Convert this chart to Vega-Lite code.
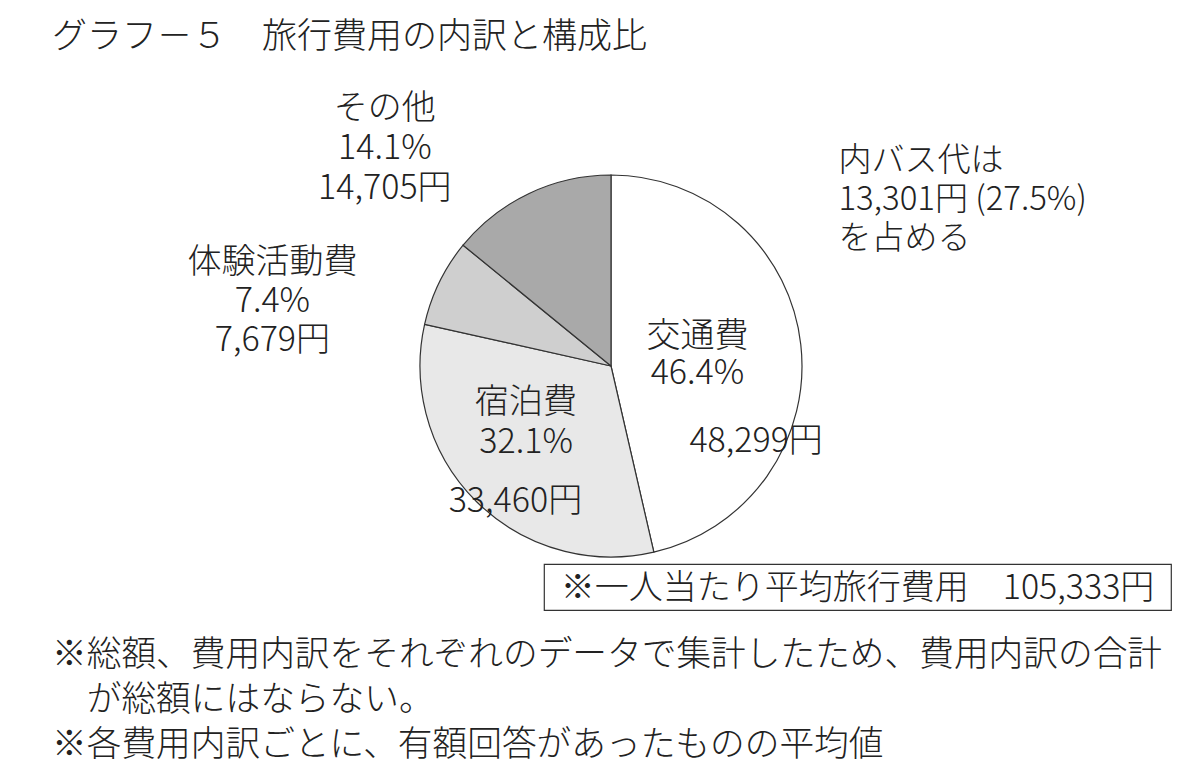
{
  "$schema": "https://vega.github.io/schema/vega-lite/v6.json",
  "background": "white",
  "padding": {"left": 30, "top": 20, "right": 0, "bottom": 10},
  "config": {
    "font": "Noto Sans CJK JP",
    "view": {"stroke": null},
    "text": {"font": "Noto Sans CJK JP", "color": "#222", "fontWeight": 300}
  },
  "title": {
    "text": [
      "※総額、費用内訳をそれぞれのデータで集計したため、費用内訳の合計",
      "\u200b　が総額にはならない。",
      "※各費用内訳ごとに、有額回答があったものの平均値"
    ],
    "orient": "bottom",
    "anchor": "start",
    "frame": "bounds",
    "offset": 28,
    "dx": 22,
    "font": "Noto Sans CJK JP",
    "fontSize": 34.7,
    "fontWeight": 300,
    "lineHeight": 45,
    "color": "#222"
  },
  "spacing": 0,
  "vconcat": [
    {
      "width": 1162,
      "height": 394,
      "title": {
        "text": "グラフ－５　旅行費用の内訳と構成比",
        "anchor": "start",
        "frame": "group",
        "offset": 37,
        "dx": 22,
        "font": "Noto Sans CJK JP",
        "fontSize": 35,
        "fontWeight": 300,
        "color": "#222"
      },
      "data": {
        "values": [
          {"item": "交通費", "pct": 46.4, "amount": 48299, "order": 1, "bus_item": "バス代", "bus_amount": 13301, "bus_pct": 27.5},
          {"item": "宿泊費", "pct": 32.1, "amount": 33460, "order": 2},
          {"item": "体験活動費", "pct": 7.4, "amount": 7679, "order": 3},
          {"item": "その他", "pct": 14.1, "amount": 14705, "order": 4}
        ]
      },
      "transform": [
        {"stack": "pct", "groupby": [], "sort": [{"field": "order"}], "as": ["t0", "t1"]},
        {"calculate": "(datum.t0 + datum.t1) / 2", "as": "mid"},
        {"calculate": "datum.item + '\\n' + format(datum.pct, '.1f') + '%'", "as": "share"},
        {"calculate": "format(datum.amount, ',') + '円'", "as": "yen"},
        {"calculate": "datum.share + '\\n' + datum.yen", "as": "full"}
      ],
      "layer": [
        {
          "mark": {"type": "arc", "radius": 191, "stroke": "#333", "strokeWidth": 1.2},
          "encoding": {
            "theta": {"field": "t0", "type": "quantitative", "stack": null, "scale": {"domain": [0, 100]}},
            "theta2": {"field": "t1"},
            "color": {
              "field": "item",
              "type": "nominal",
              "scale": {
                "domain": ["交通費", "宿泊費", "体験活動費", "その他"],
                "range": ["#ffffff", "#e8e8e8", "#cfcfcf", "#a9a9a9"]
              },
              "legend": null
            },
            "tooltip": [
              {"field": "item", "type": "nominal", "title": "費目"},
              {"field": "pct", "type": "quantitative", "title": "構成比(%)"},
              {"field": "amount", "type": "quantitative", "title": "金額(円)", "format": ","}
            ]
          }
        },
        {
          "transform": [{"filter": "datum.item === '交通費'"}],
          "mark": {"type": "text", "radius": 87, "dx": 0, "dy": -19, "fontSize": 34, "lineHeight": 37, "lineBreak": "\n"},
          "encoding": {
            "theta": {"field": "mid", "type": "quantitative", "scale": {"domain": [0, 100]}},
            "text": {"field": "share"}
          }
        },
        {
          "transform": [{"filter": "datum.item === '交通費'"}],
          "mark": {"type": "text", "radius": 136, "dx": 10, "dy": 91, "fontSize": 34},
          "encoding": {
            "theta": {"field": "mid", "type": "quantitative", "scale": {"domain": [0, 100]}},
            "text": {"field": "yen"}
          }
        },
        {
          "transform": [{"filter": "datum.item === '宿泊費'"}],
          "mark": {"type": "text", "radius": 102, "dx": -13, "dy": -35, "fontSize": 34, "lineHeight": 40, "lineBreak": "\n"},
          "encoding": {
            "theta": {"field": "mid", "type": "quantitative", "scale": {"domain": [0, 100]}},
            "text": {"field": "share"}
          }
        },
        {
          "transform": [{"filter": "datum.item === '宿泊費'"}],
          "mark": {"type": "text", "radius": 164, "dx": 20, "dy": 20, "fontSize": 34},
          "encoding": {
            "theta": {"field": "mid", "type": "quantitative", "scale": {"domain": [0, 100]}},
            "text": {"field": "yen"}
          }
        },
        {
          "transform": [{"filter": "datum.item === '体験活動費'"}],
          "mark": {"type": "text", "radius": 332, "dx": -40, "dy": 42, "fontSize": 34, "lineHeight": 39, "lineBreak": "\n"},
          "encoding": {
            "theta": {"field": "mid", "type": "quantitative", "scale": {"domain": [0, 100]}},
            "text": {"field": "full"}
          }
        },
        {
          "transform": [{"filter": "datum.item === 'その他'"}],
          "mark": {"type": "text", "radius": 292, "dx": -101, "dy": 7, "fontSize": 34, "lineHeight": 40, "lineBreak": "\n"},
          "encoding": {
            "theta": {"field": "mid", "type": "quantitative", "scale": {"domain": [0, 100]}},
            "text": {"field": "full"}
          }
        },
        {
          "transform": [
            {"filter": "datum.item === '交通費'"},
            {"calculate": "'内' + datum.bus_item + 'は\\n' + format(datum.bus_amount, ',') + '円 (' + format(datum.bus_pct, '.1f') + '%)\\nを占める'", "as": "bus_note"}
          ],
          "mark": {"type": "text", "radius": 244, "dx": -15, "dy": -177, "align": "left", "fontSize": 33, "lineHeight": 39, "lineBreak": "\n"},
          "encoding": {
            "theta": {"field": "mid", "type": "quantitative", "scale": {"domain": [0, 100]}},
            "text": {"field": "bus_note"}
          }
        }
      ]
    },
    {
      "spacing": 0,
      "hconcat": [
        {
          "width": 513,
          "height": 46,
          "data": {"values": []},
          "mark": "point"
        },
        {
          "width": 627,
          "height": 46,
          "view": {"stroke": "#333", "strokeWidth": 1.2},
          "data": {"values": [{"label": "※一人当たり平均旅行費用", "amount": 105333}]},
          "transform": [
            {"calculate": "datum.label + '　' + format(datum.amount, ',') + '円'", "as": "total_text"}
          ],
          "mark": {"type": "text", "fontSize": 34, "dy": 2},
          "encoding": {"text": {"field": "total_text"}}
        }
      ]
    }
  ]
}
